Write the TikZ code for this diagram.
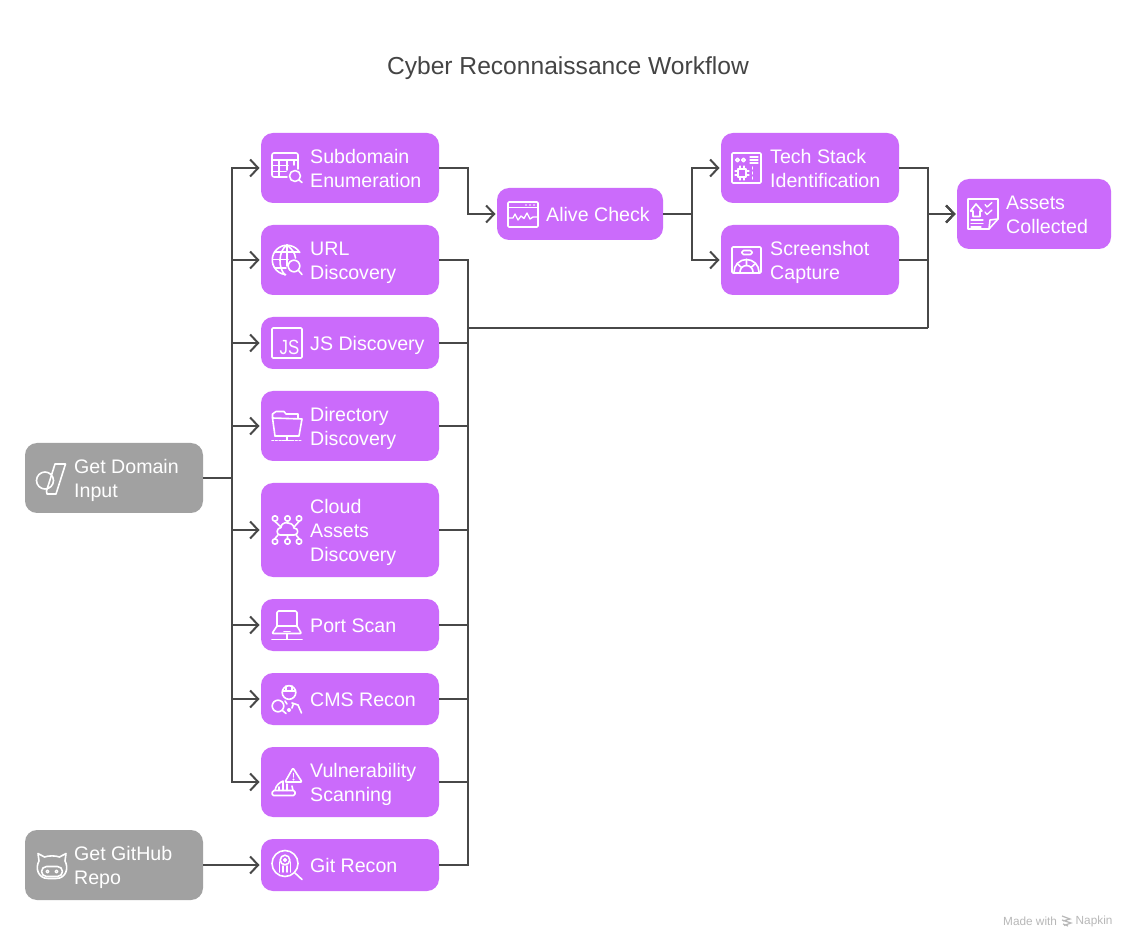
\documentclass[tikz,border=0pt]{standalone}
\usepackage{fontspec}
\setmainfont{Liberation Sans}
\usetikzlibrary{arrows.meta,calc}
\definecolor{boxp}{HTML}{CB6BFB}
\definecolor{boxg}{HTML}{A1A1A1}
\definecolor{linec}{HTML}{484848}
\definecolor{titlec}{HTML}{444444}
\definecolor{footc}{HTML}{B8B8B8}
\tikzset{
  flow/.style={draw=none,fill=boxp,rounded corners=12pt,inner sep=0pt,outer sep=0pt,anchor=north west},
  src/.style={flow,fill=boxg},
  lbl/.style={text=white,anchor=west,align=left,inner sep=0pt,font=\fontsize{19.6}{24}\selectfont},
  conn/.style={draw=linec,line width=2pt},
  arr/.style={conn,-{Straight Barb[length=8pt,width=17pt,line width=2pt]},shorten >=1.5pt},
  icon/.style={draw=white,line width=1.6pt,line cap=round,line join=round},
  foot/.style={text=footc,anchor=west,inner sep=0pt,font=\fontsize{11.8}{13}\selectfont},
}
\newcommand{\stepn}[7]{% style name x y w h text
  \node[#1,minimum width=#5pt,minimum height=#6pt] (#2) at (#3,#4) {};
  \node[lbl] (#2t) at ([xshift=49pt,yshift=-2.5pt]#2.west) {\strut #7\strut};
}
\begin{document}
\begin{tikzpicture}[x=1pt,y=-1pt]
\useasboundingbox (0,0) rectangle (1136,949);
\fill[white] (0,0) rectangle (1136,949);
\node[text=titlec,inner sep=0pt,font=\fontsize{24.6}{28}\selectfont] (title) at (568,68.5) {Cyber Reconnaissance Workflow};
\stepn{flow}{sub}{261}{133}{178}{70}{Subdomain\\Enumeration}
\stepn{flow}{url}{261}{225}{178}{70}{URL\\Discovery}
\stepn{flow}{js}{261}{317}{178}{52}{JS Discovery}
\stepn{flow}{dir}{261}{391}{178}{70}{Directory\\Discovery}
\stepn{flow}{cloud}{261}{483}{178}{94}{Cloud\\Assets\\Discovery}
\stepn{flow}{port}{261}{599}{178}{52}{Port Scan}
\stepn{flow}{cms}{261}{673}{178}{52}{CMS Recon}
\stepn{flow}{vuln}{261}{747}{178}{70}{Vulnerability\\Scanning}
\stepn{flow}{git}{261}{839}{178}{52}{Git Recon}
\stepn{src}{dom}{25}{443}{178}{70}{Get Domain\\Input}
\stepn{src}{gh}{25}{830}{178}{70}{Get GitHub\\Repo}
\stepn{flow}{alive}{497}{188}{166}{52}{Alive Check}
\stepn{flow}{tech}{721}{133}{178}{70}{Tech Stack\\Identification}
\stepn{flow}{shot}{721}{225}{178}{70}{Screenshot\\Capture}
\stepn{flow}{assets}{957}{179}{154}{70}{Assets\\Collected}
\coordinate (busL) at (232,0);
\coordinate (busR) at (468,0);
\coordinate (busM) at (692,0);
\coordinate (busA) at (928,0);
\coordinate (rail) at (928,328);
% left fan
\foreach \n in {sub,url,js,dir,cloud,port,cms,vuln}
  \draw[arr] (dom.east) -- (busL |- dom.east) |- (\n.west);
\draw[arr] (gh.east) -- (git.west);
% right merge
\foreach \n in {url,js,dir,cloud,port,cms,vuln,git}
  \draw[conn,line join=miter] (\n.east) -- (busR |- \n.east) -- (busR |- rail) -- (rail);
\draw[arr] (rail) |- (assets.west);
\draw[arr] (sub.east) -- (busR |- sub.east) |- (alive.west);
\draw[arr] (alive.east) -- (busM |- alive.east) |- (tech.west);
\draw[arr] (alive.east) -- (busM |- alive.east) |- (shot.west);
\draw[arr] (tech.east) -- (busA |- tech.east) |- (assets.west);
\draw[arr] (shot.east) -- (busA |- shot.east) |- (assets.west);
% --- icons ---
% subdomain
\draw[icon,rounded corners=2pt] (287,177) -- (272,177) -- (272,153) -- (298,153) -- (298,169);
\draw[icon] (272,160) -- (298,160) (272,165.5) -- (288,165.5) (272,171.5) -- (286,171.5) (279,160) -- (279,177) (287,160) -- (287,170) (294,160) -- (294,165);
\draw[icon] (295,176) circle (5.5) (299,180) -- (302,182.5);
% url globe
\draw[icon] (299.7,252.6) arc (-30:-265:14.7);
\draw[icon] (287,245) .. controls (278,251) and (278,268) .. (285,275);
\draw[icon] (287,245) .. controls (292,249) and (295,253) .. (295.5,258);
\draw[icon] (287,245) -- (287,266);
\draw[icon] (274.5,252) -- (299.5,252) (272.5,259.5) -- (288,259.5) (275,268) -- (286,268);
\draw[icon] (294,266) circle (5.8) (298.5,270.5) -- (302,274.5);
% js
\draw[icon,rounded corners=1pt] (272,328) rectangle (302,358);
\node[text=white,inner sep=0pt,font=\fontsize{20.5}{22}\selectfont] (jsglyph) at (289.5,347.5) {\scalebox{.82}[1]{JS}};
% directory
\draw[icon] (275,436) -- (272.5,418) -- (272.5,414) -- (276,411.5) -- (284,411.5) -- (286,414) -- (298,414) -- (298,418);
\draw[icon] (272.5,418) -- (302,419) -- (299,436) -- (275,436);
\draw[icon] (287,436) -- (287,440);
\draw[icon,dotted,line width=1.6pt] (272,440.5) -- (282,440.5) (292,440.5) -- (302,440.5);
\draw[icon] (282,440.5) -- (292,440.5);
% cloud
\foreach \p/\q in {275/518.5,287.5/518.5,299/518.5,275/541.5,287.5/541.5,299/541.5}
  \draw[icon] (\p,\q) circle (2.7);
\draw[icon] (280,535) .. controls (276,535) and (276,528) .. (281,527.5) .. controls (281,521) and (293,521) .. (294,528) .. controls (299,528) and (299,535) .. (294,535) -- cycle;
\draw[icon] (275,521.5) -- (281,527) (299,521.5) -- (294,527) (287.5,521.5) -- (287.5,523) (275,538.5) -- (278,535) (299,538.5) -- (296,535) (287.5,538.5) -- (287.5,535);
% port
\draw[icon,rounded corners=1.5pt] (277,626) -- (277,611) -- (297,611) -- (297,626);
\draw[icon,rounded corners=1pt] (277,626) -- (272,633.5) -- (301.5,633.5) -- (297,626) -- cycle;
\draw[icon] (284,631.5) -- (290,631.5) (287,633.5) -- (287,639) (272,639.5) -- (302,639.5);
% cms
\draw[icon] (289,692.5) circle (6.8);
\draw[icon] (282.5,691) -- (295.5,691) (286,686) -- (286,691) (292,686) -- (292,691);
\draw[icon] (278,706) circle (5.8) (282.5,710.5) -- (286,713.5);
\fill[white] (289,710) circle (2);
\draw[icon] (292,703) -- (298,705) -- (301.5,713) (285,701) -- (287,704) (293,705) -- (292,708);
% vuln
\draw[icon,rounded corners=1pt] (293,768) -- (285,782) -- (302,782) -- cycle;
\draw[icon] (293.5,773.5) -- (293.5,777);
\fill[white] (293.5,779.5) circle (1.1);
\draw[icon,rounded corners=1.5pt] (272,795.5) -- (272.5,790.5) -- (295,790.5) -- (295,795.5) -- cycle;
\draw[icon] (275,790.5) .. controls (276,785) and (279,783) .. (283,781) -- (283,790.5);
\draw[icon] (287,784) -- (287,790.5) (292,786) -- (293,790.5) (279,787) -- (279,790.5);
% git
\draw[icon] (285,863.5) circle (13);
\draw[icon] (295,873) -- (302,879.5);
\draw[icon] (285,860) circle (4.8);
\draw[icon] (285,860) circle (1.3);
\draw[icon] (279.5,872) -- (279.5,862) (290.5,872) -- (290.5,862) (283,872) -- (283,866) (287,872) -- (287,866);
% domain
\draw[icon] (45,480.5) circle (8.5);
\draw[icon] (55,464) -- (65.5,464) -- (56,494) -- (47,494) -- (46.5,491) -- cycle;
% github cat
\draw[icon] (39,861) -- (38,853.5) -- (44.5,857) .. controls (49,855.5) and (55,855.5) .. (59.5,857) -- (66,853.5) -- (65,861) .. controls (69,868) and (66,878.5) .. (56,878.5) -- (48,878.5) .. controls (38,878.5) and (35,868) .. (39,861) -- cycle;
\draw[icon,rounded corners=5pt] (41.5,866.5) rectangle (62.5,876.5);
\draw[icon,line width=1.2pt] (47.5,871.5) circle (1.5) (56.5,871.5) circle (1.5);
% alive
\draw[icon,rounded corners=1pt] (508,202) rectangle (538,227);
\draw[icon] (508,207.5) -- (538,207.5);
\fill[white] (526,205) circle (.9) (530,205) circle (.9) (534,205) circle (.9);
\draw[icon,line width=1.3pt] (508,218) -- (513,218) -- (515,214) -- (518,220) -- (521,216) -- (524,218.5) -- (527,213) -- (530,219) -- (533,217) -- (538,217);
% tech
\draw[icon,rounded corners=1pt] (732,153) rectangle (761,183);
\draw[icon] (737.5,160) circle (1.8) (743.5,160) circle (1.8);
\draw[icon,line width=1.3pt] (750,157) -- (758,157) (750,160) -- (758,160) (750,163) -- (758,163);
\draw[icon] (738,169) rectangle (746,177);
\draw[icon,line width=1.1pt] (740,166) -- (740,168) (744,166) -- (744,168) (740,178) -- (740,180) (744,178) -- (744,180) (735,171) -- (737,171) (735,175) -- (737,175) (747,171) -- (749,171) (747,175) -- (749,175);
\draw[icon,line width=1.3pt] (752.5,167) -- (752.5,169) (752.5,172) -- (752.5,174) (752.5,177) -- (752.5,179);
% shot
\draw[icon,rounded corners=1pt] (732,247) rectangle (761,273);
\draw[icon,rounded corners=1.5pt] (742,250.5) rectangle (752,254.5);
\draw[icon] (734,272) arc (180:360:12.5);
\draw[icon] (740,272) arc (180:360:6.5);
\draw[icon] (737,263.5) -- (741.5,267.5) (755.5,263.5) -- (751,267.5) (746.5,259.5) -- (746.5,265.5);
% assets
\draw[icon] (968,199) -- (998,199) -- (998,219) -- (989,229) -- (968,229) -- cycle;
\draw[icon] (998,219) -- (990,220) -- (989,229);
\draw[icon] (976,204) -- (970.5,211) -- (973,211) -- (973,216.5) -- (980,216.5) -- (980,211) -- (982,211) -- cycle;
\draw[icon,line width=1.3pt] (985,204.5) -- (987,207) -- (992,202.5) (985,212) -- (987,214.5) -- (992,210);
\draw[icon,line width=1.3pt] (971,220) -- (983,220) (971,223.5) -- (983,223.5) (971,227) -- (981,227);
% footer
\node[foot] (made) at (1003,921.5) {Made with};
\node[foot] (napkin) at (1075.5,921.5) {Napkin};
\draw[draw=footc,line width=1.2pt] (1062,916) -- (1070,919) -- (1063,921) (1062,920) -- (1071,923) -- (1064,925.5) (1063,924) -- (1068,926);
\end{tikzpicture}
\end{document}
